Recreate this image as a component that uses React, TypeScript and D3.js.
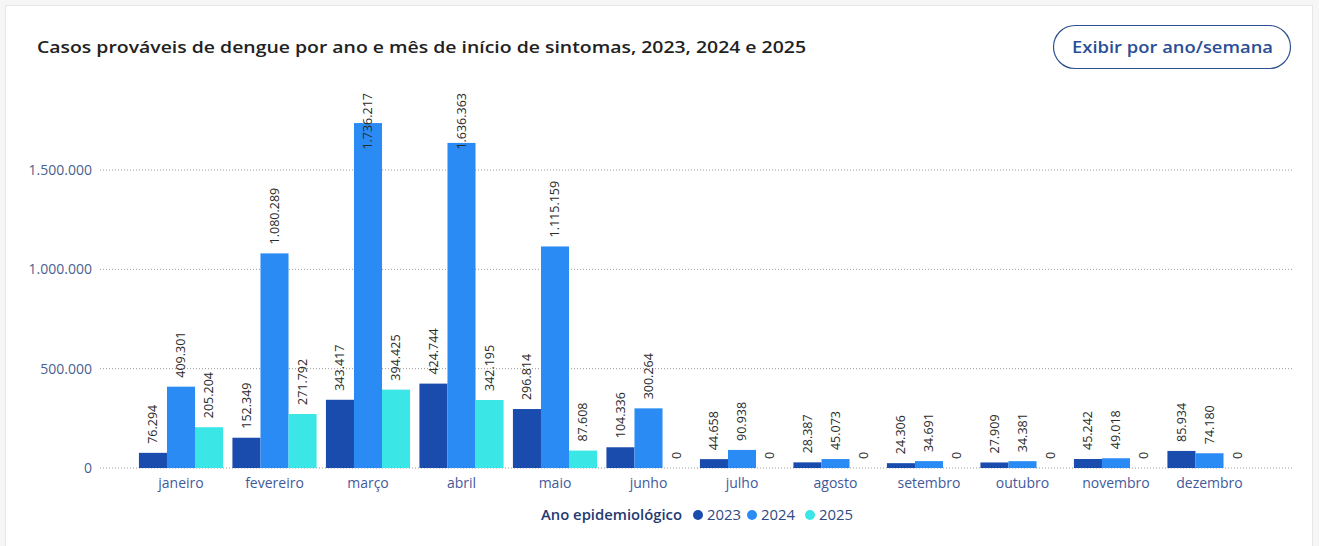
import React from "react";
import * as d3 from "d3";

const months = ["janeiro","fevereiro","março","abril","maio","junho","julho","agosto","setembro","outubro","novembro","dezembro"];
const years = ["2023","2024","2025"];
const cases2023 = [76294,152349,343417,424744,296814,104336,44658,28387,24306,27909,45242,85934];
const cases2024 = [409301,1080289,1736217,1636363,1115159,300264,90938,45073,34691,34381,49018,74180];
const cases2025 = [205204,271792,394425,342195,87608,0,0,0,0,0,0,0];
const yTicks = [0,500000,1000000,1500000];
const colors = ["#1a4cae","#2a8bf4","#3ae6e6"];

const W = 1319, H = 546;
const fmt = d3.formatLocale({ decimal: ",", thousands: ".", grouping: [3], currency: ["R$", ""] }).format(",d");

export default function App() {
  const series = [cases2023, cases2024, cases2025];
  const y = d3.scaleLinear().domain([0, 1500000]).range([468, 170]);
  const x = d3.scaleBand<string>().domain(months).range([134.25, 1256.25]).paddingInner(0.1).paddingOuter(0.05);
  const xi = d3.scaleBand<string>().domain(years).range([0, x.bandwidth()]);
  const plotTop = 93;
  const font = "'Segoe UI', 'Open Sans', sans-serif";

  return (
    <svg width={W} height={H} style={{ position: "absolute", left: 0, top: 0, background: "#ffffff" }} fontFamily={font}>
      <rect x={0} y={0} width={W} height={H} fill="#f6f6f6" />
      <rect x={5.5} y={5.5} width={1307} height={545} fill="#ffffff" stroke="#e6e6e6" />
      <text x={37} y={53} fontSize={17} fontWeight={600} fill="#222" textLength={769} lengthAdjust="spacingAndGlyphs">
        Casos prováveis de dengue por ano e mês de início de sintomas, 2023, 2024 e 2025
      </text>
      <rect x={1053.5} y={25.5} width={237} height={43} rx={21.5} fill="#fff" stroke="#2c4f8f" strokeWidth={1.2} />
      <text x={1072} y={53} fontSize={17} fontWeight={600} fill="#2a4f96" textLength={201} lengthAdjust="spacingAndGlyphs">Exibir por ano/semana</text>

      {yTicks.map(t => (
        <g key={t}>
          <line x1={100} x2={1293} y1={y(t)} y2={y(t)} stroke="#9a9a9a" strokeDasharray="1 2" />
          <text x={92} y={y(t)} dy="0.35em" textAnchor="end" fontSize={14} fill="#4a5f8f">{fmt(t)}</text>
        </g>
      ))}

      {months.map((m, i) => (
        <g key={m} transform={`translate(${x(m)},0)`}>
          {series.map((s, k) => {
            const v = s[i];
            const bx = xi(years[k])!;
            const bw = xi.bandwidth();
            const top = y(v);
            const label = fmt(v);
            const estLen = label.length * 6.5;
            const start = top - 9;
            const cx = bx + bw / 2;
            const clamped = start - estLen < plotTop;
            return (
              <g key={k}>
                {v > 0 && <rect x={bx} y={top} width={bw} height={y(0) - top} fill={colors[k]} />}
                <text
                  transform={`translate(${cx},${clamped ? plotTop : start}) rotate(-90)`}
                  textAnchor={clamped ? "end" : "start"}
                  dy="0.35em"
                  fontSize={12.5}
                  fill="#2b2b2b"
                >{label}</text>
              </g>
            );
          })}
          <text x={x.bandwidth() / 2} y={488} textAnchor="middle" fontSize={14} fill="#3f5a9a">{m}</text>
        </g>
      ))}

      <text x={541} y={520} fontSize={14.5} fontWeight={600} fill="#243a73" textLength={141} lengthAdjust="spacingAndGlyphs">Ano epidemiológico</text>
      {years.map((yr, k) => {
        const cx = [698, 752, 810][k];
        return (
          <g key={yr}>
            <circle cx={cx} cy={515} r={5} fill={colors[k]} />
            <text x={cx + 9} y={520} fontSize={14.5} fill="#2f4a85" textLength={34} lengthAdjust="spacingAndGlyphs">{yr}</text>
          </g>
        );
      })}
    </svg>
  );
}
